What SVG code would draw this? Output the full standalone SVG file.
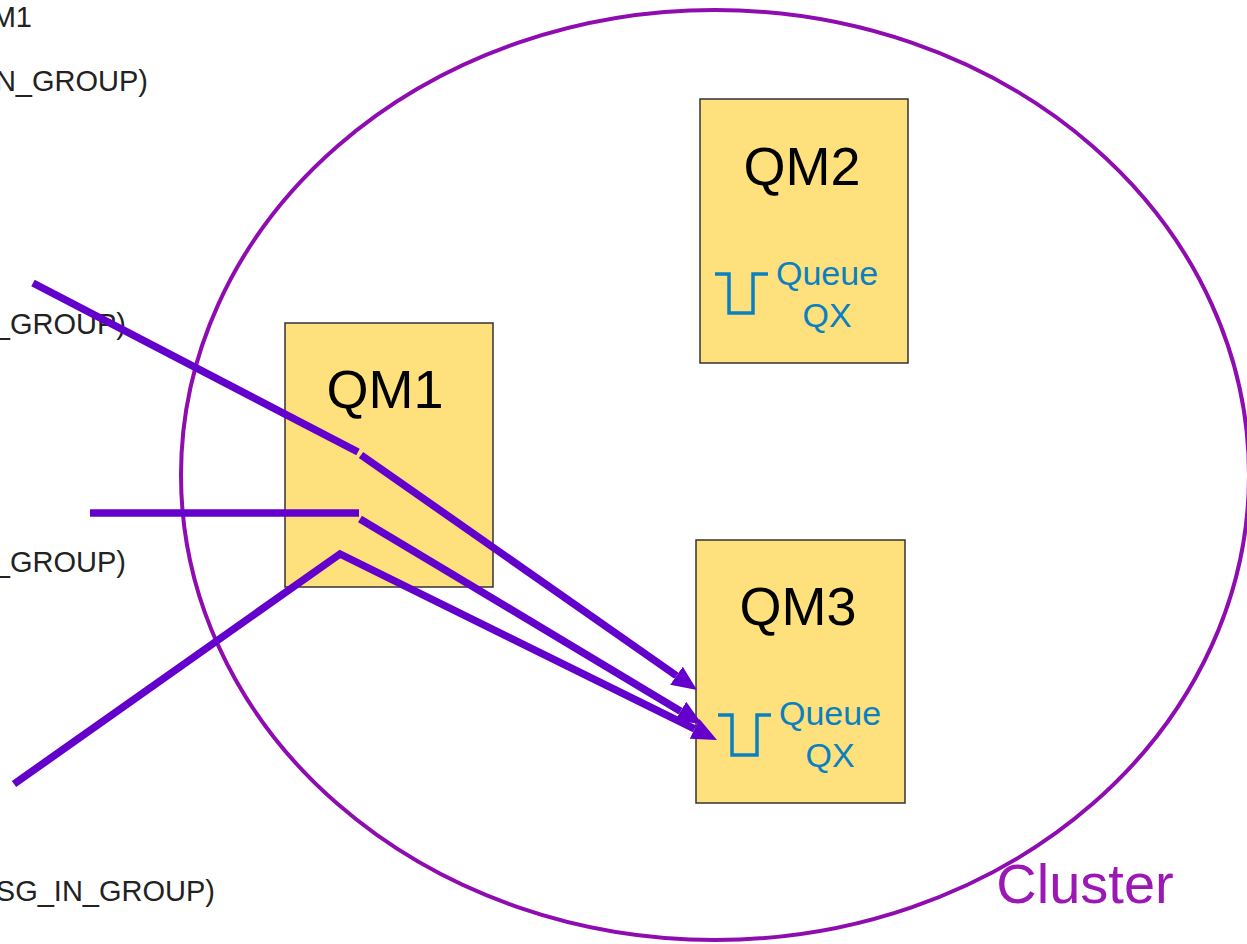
<svg xmlns="http://www.w3.org/2000/svg" width="1247" height="944" viewBox="0 0 1247 944">
  <style>
    .qm { fill: #FEE17C; stroke: #333; stroke-width: 1.5; }
    .qm-title { font-family: "Liberation Sans", Arial, sans-serif; font-size: 54px; fill: #000; text-anchor: middle; }
    .q-label { font-family: "Liberation Sans", Arial, sans-serif; font-size: 34px; fill: #0A80C2; text-anchor: middle; }
    .q-icon { fill: none; stroke: #0A80C2; stroke-width: 3.5; }
    .side { font-family: "Liberation Sans", Arial, sans-serif; font-size: 29px; fill: #222; text-anchor: end; }
    .flow { fill: none; stroke: #6400CC; stroke-width: 7.5; }
    .cluster { fill: none; stroke: #8E0CB0; stroke-width: 4; }
  </style>
  <defs>
    <marker id="arrow" markerUnits="userSpaceOnUse" markerWidth="25" markerHeight="22" refX="0" refY="11" orient="auto" viewBox="0 0 25 22">
      <path d="M0,0 L25,11 L0,22 z" fill="#6400CC"/>
    </marker>
  </defs>

  <rect width="1247" height="944" fill="#fff"/>

  <!-- cluster boundary -->
  <g id="cluster">
    <ellipse class="cluster" cx="715" cy="475" rx="534" ry="465"/>
    <text x="1085" y="903" font-family="'Liberation Sans', Arial, sans-serif" font-size="56" fill="#9B18B5" text-anchor="middle">Cluster</text>
  </g>

  <!-- side labels -->
  <g id="labels">
    <text class="side" x="32" y="27">M1</text>
    <text class="side" x="148" y="91">N_GROUP)</text>
    <text class="side" x="126" y="334">_GROUP)</text>
    <text class="side" x="126" y="572">_GROUP)</text>
    <text class="side" x="215" y="901">SG_IN_GROUP)</text>
  </g>

  <!-- queue managers -->
  <g id="qm1">
    <rect class="qm" x="285" y="323" width="208" height="264"/>
    <text class="qm-title" x="385" y="408">QM1</text>
  </g>

  <g id="qm2">
    <rect class="qm" x="700" y="99" width="208" height="264"/>
    <text class="qm-title" x="802" y="185">QM2</text>
    <path class="q-icon" d="M715,274 H729 V313 H753 V274 H768"/>
    <text class="q-label" x="827" y="285">Queue</text>
    <text class="q-label" x="827" y="327">QX</text>
  </g>

  <g id="qm3">
    <rect class="qm" x="696" y="540" width="209" height="263"/>
    <text class="qm-title" x="798" y="625">QM3</text>
    <path class="q-icon" d="M718,715 H732 V755 H757 V715 H771"/>
    <text class="q-label" x="830" y="725">Queue</text>
    <text class="q-label" x="830" y="767">QX</text>
  </g>

  <!-- message flows -->
  <g id="connectors">
    <path class="flow" d="M33,283 L358,452"/>
    <path class="flow" d="M361,455 L676.5,675.7" marker-end="url(#arrow)"/>
    <path class="flow" d="M90,513 L359,513"/>
    <path class="flow" d="M360,519 L680.6,711.2" marker-end="url(#arrow)"/>
    <path class="flow" d="M14,784 L340,554 L694.6,728.9" marker-end="url(#arrow)"/>
  </g>
</svg>
